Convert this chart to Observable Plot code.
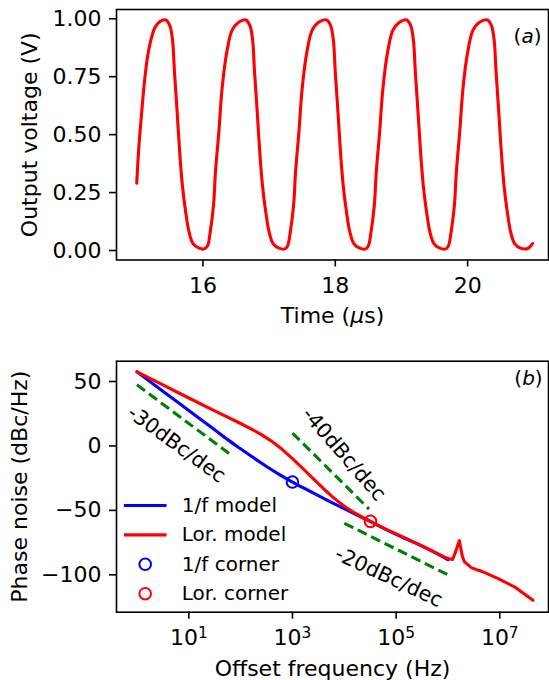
<!DOCTYPE html>
<html>
<head>
<meta charset="utf-8">
<script src="https://cdn.jsdelivr.net/npm/d3@7"></script>
<script src="https://cdn.jsdelivr.net/npm/@observablehq/plot@0.6"></script>
<style>
  html, body { margin: 0; padding: 0; background: #fff; }
  #chart { width: 549px; }
  #chart svg { display: block; }
</style>
</head>
<body>
<div id="chart"></div>
<script>
// ---------- Panel (a): output voltage waveform ----------
const timeUs = [
  15.00, 15.03, 15.07, 15.11, 15.16, 15.22, 15.28, 15.36, 15.44,
  15.50, 15.54, 15.57, 15.61, 15.65, 15.69, 15.74, 15.79, 15.85, 15.94, 16.02,
  16.07, 16.11, 16.16, 16.19, 16.24, 16.29, 16.36, 16.44, 16.54, 16.65,
  16.71, 16.75, 16.78, 16.82, 16.86, 16.90, 16.95, 17.00, 17.06, 17.15, 17.24,
  17.28, 17.32, 17.37, 17.40, 17.45, 17.50, 17.57, 17.65, 17.75, 17.87,
  17.93, 17.97, 18.00, 18.04, 18.08, 18.12, 18.17, 18.22, 18.28, 18.37, 18.46,
  18.50, 18.54, 18.59, 18.62, 18.67, 18.72, 18.79, 18.87, 18.97, 19.08,
  19.14, 19.18, 19.21, 19.25, 19.29, 19.33, 19.38, 19.43, 19.49, 19.58, 19.67,
  19.71, 19.75, 19.80, 19.83, 19.88, 19.93, 20.00, 20.08, 20.18, 20.30,
  20.36, 20.40, 20.43, 20.47, 20.51, 20.55, 20.60, 20.65, 20.71, 20.80, 20.89,
  20.94, 20.98
];
const voltage = [
  0.29, 0.44, 0.58, 0.71, 0.83, 0.915, 0.965, 0.99, 0.995,
  0.97, 0.91, 0.77, 0.60, 0.42, 0.28, 0.165, 0.08, 0.03, 0.01, 0.007,
  0.02, 0.08, 0.195, 0.34, 0.51, 0.70, 0.855, 0.95, 0.985, 0.995,
  0.97, 0.91, 0.77, 0.60, 0.42, 0.28, 0.165, 0.08, 0.03, 0.01, 0.007,
  0.02, 0.08, 0.195, 0.34, 0.51, 0.70, 0.855, 0.95, 0.985, 0.995,
  0.97, 0.91, 0.77, 0.60, 0.42, 0.28, 0.165, 0.08, 0.03, 0.01, 0.007,
  0.02, 0.08, 0.195, 0.34, 0.51, 0.70, 0.855, 0.95, 0.985, 0.995,
  0.97, 0.91, 0.77, 0.60, 0.42, 0.28, 0.165, 0.08, 0.03, 0.01, 0.007,
  0.02, 0.08, 0.195, 0.34, 0.51, 0.70, 0.855, 0.95, 0.985, 0.995,
  0.97, 0.91, 0.77, 0.60, 0.42, 0.28, 0.165, 0.08, 0.03, 0.01, 0.007,
  0.015, 0.03
];
const timeTicks = [16, 18, 20];
const voltageTicks = [0, 0.25, 0.5, 0.75, 1.0];

// ---------- Panel (b): phase noise ----------
const lorFreqHz = [
  1, 3.16, 10, 31.6, 100, 158.5, 251.2, 398.1, 631, 1000, 1585, 2512, 3981,
  6310, 10000, 15850, 25120, 39810, 63100, 100000, 316200,
  741000, 891000, 1047000, 1230000, 1349000, 1660000, 1905000, 2089000,
  2818000, 3548000, 4169000, 5129000, 9333000, 19500000, 43650000
];
const lorPhaseNoise = [
  57.5, 47.3, 37.2, 27.2, 17.4, 13.3, 8.8, 3.6, -2.6, -9.8, -17.5, -25.4, -33.2,
  -40.5, -46.8, -52.0, -56.4, -60.5, -64.5, -68.3, -77.5,
  -84.9, -86.6, -87.5, -88.0, -84.0, -73.5, -86.0, -90.0,
  -94.4, -96.0, -96.8, -98.3, -103.0, -109.5, -119.8
];
const oneFFreqHz = [
  1, 3.16, 10, 31.6, 56.2, 100, 177.8, 316.2, 562.3, 1000, 1778, 3162, 5623,
  10000, 17780, 25120, 39810, 63100, 100000, 316200, 741000, 891000, 1000000
];
const oneFPhaseNoise = [
  57.5, 42.5, 27.5, 12.5, 4.9, -2.2, -9.2, -15.9, -22.2, -28.0, -33.4, -38.6, -43.7,
  -48.7, -53.7, -56.5, -60.7, -64.7, -68.6, -77.8, -85.3, -87.2, -88.3
];
const cornerNames = ["1/f corner", "Lor. corner"];
const cornerFreqHz = [1000, 32000];
const cornerPhaseNoise = [-28.0, -58.5];

// slope guide lines (dashed) and their labels
const slopeLabels = ["-30dBc/dec", "-40dBc/dec", "-20dBc/dec"];
const slopeStartHz = [1, 1000, 10000];
const slopeStartDb = [47.5, 10, -60];
const slopeEndHz = [65, 30000, 1000000];
const slopeEndDb = [-7, -49, -100];
const slopeLabelHz = [5.8, 9800, 72000];
const slopeLabelDb = [1.3, -6.4, -101.7];
const slopeLabelAngle = [36, 49, 25];

const freqTicks = [10, 1000, 100000, 10000000];
const noiseTicks = [50, 0, -50, -100];

const legendLabels = ["1/f model", "Lor. model", "1/f corner", "Lor. corner"];
const legendColors = ["#0000ff", "#ff0000", "#0000ff", "#ff0000"];
const legendKinds = ["line", "line", "circle", "circle"];

// ---------- build ----------
const FONT = "'DejaVu Sans', sans-serif";
const RED = "#ff0000", BLUE = "#0000ff", GREEN = "#008000";
const LW = 3.1;

const waveData = timeUs.map((t, i) => ({t, v: voltage[i]}));

const topPlot = Plot.plot({
  width: 549, height: 340,
  marginLeft: 116, marginRight: 1, marginTop: 9, marginBottom: 80.5,
  style: {fontFamily: FONT, fontSize: "22px", color: "black", background: "white", overflow: "visible"},
  x: {domain: [14.694, 21.222]},
  y: {domain: [-0.041, 1.040]},
  marks: [
    Plot.line(waveData, {x: "t", y: "v", stroke: RED, strokeWidth: LW, curve: "catmull-rom"}),
    Plot.frame({stroke: "black", strokeWidth: 1.6}),
    Plot.axisX({ticks: timeTicks, tickFormat: d3.format("d"), tickSize: 7, tickPadding: 10, strokeWidth: 1.6, label: null, fontSize: 22}),
    Plot.axisY({ticks: voltageTicks, tickFormat: d3.format(".2f"), tickSize: 7, tickPadding: 8, strokeWidth: 1.6, label: null, fontSize: 22}),
    Plot.text(["Time (μs)"], {frameAnchor: "bottom", dy: 55.5, lineAnchor: "middle", textAnchor: "middle", fontSize: 22}),
    Plot.text(["Output voltage (V)"], {frameAnchor: "left", dx: -87, rotate: -90, lineAnchor: "middle", textAnchor: "middle", fontSize: 22}),
    Plot.text(["(a)"], {frameAnchor: "top-right", dx: -21, dy: 27, lineAnchor: "middle", textAnchor: "middle", fontSize: 20})
  ]
});

const lorData = lorFreqHz.map((f, i) => ({f, db: lorPhaseNoise[i]}));
const oneFData = oneFFreqHz.map((f, i) => ({f, db: oneFPhaseNoise[i]}));
const cornerData = cornerNames.map((n, i) => ({n, f: cornerFreqHz[i], db: cornerPhaseNoise[i], c: i === 0 ? BLUE : RED}));
const slopeData = slopeLabels.map((s, i) => ({
  s, f1: slopeStartHz[i], d1: slopeStartDb[i], f2: slopeEndHz[i], d2: slopeEndDb[i],
  lf: slopeLabelHz[i], ld: slopeLabelDb[i], a: slopeLabelAngle[i]
}));

const lineSymbol = {draw(ctx) { ctx.moveTo(-21.3, 0); ctx.lineTo(21.3, 0); }};
const legendMarks = legendLabels.flatMap((lab, i) => {
  const dy = -106.7 + i * 29.4;
  const isLine = legendKinds[i] === "line";
  return [
    Plot.dot([0], {frameAnchor: "bottom-left", dx: 28.7, dy, symbol: isLine ? lineSymbol : "circle",
      r: 5.8, stroke: legendColors[i], strokeWidth: isLine ? LW : 2, fill: "none"}),
    Plot.text([lab], {frameAnchor: "bottom-left", dx: 65.3, dy, textAnchor: "start", lineAnchor: "middle", fontSize: 20})
  ];
});

const botPlot = Plot.plot({
  width: 549, height: 340,
  marginLeft: 116, marginRight: 1, marginTop: 20.7, marginBottom: 68.3,
  style: {fontFamily: FONT, fontSize: "22px", color: "black", background: "white", overflow: "visible"},
  x: {type: "log", domain: [Math.pow(10, -0.395), Math.pow(10, 7.94)]},
  y: {domain: [-129, 65.75]},
  marks: [
    Plot.link(slopeData, {x1: "f1", y1: "d1", x2: "f2", y2: "d2", stroke: GREEN, strokeWidth: LW, strokeDasharray: "10,5"}),
    Plot.text(slopeData, {x: "lf", y: "ld", text: "s", rotate: "a", textAnchor: "middle", lineAnchor: "middle", fontSize: 20.5}),
    Plot.line(oneFData, {x: "f", y: "db", stroke: BLUE, strokeWidth: LW, curve: "monotone-x"}),
    Plot.line(lorData, {x: "f", y: "db", stroke: RED, strokeWidth: LW}),
    Plot.dot(cornerData, {x: "f", y: "db", r: 5.8, stroke: "c", strokeWidth: 2, fill: "none"}),
    ...legendMarks,
    Plot.frame({stroke: "black", strokeWidth: 1.6}),
    Plot.axisX({ticks: freqTicks, tickFormat: d => "10^" + Math.round(Math.log10(d)), tickSize: 7, tickPadding: 10, strokeWidth: 1.6, label: null, fontSize: 22}),
    Plot.axisY({ticks: noiseTicks, tickSize: 7, tickPadding: 8, strokeWidth: 1.6, label: null, fontSize: 22}),
    Plot.text(["Offset frequency (Hz)"], {frameAnchor: "bottom", dy: 56.5, lineAnchor: "middle", textAnchor: "middle", fontSize: 22}),
    Plot.text(["Phase noise (dBc/Hz)"], {frameAnchor: "left", dx: -97, rotate: -90, lineAnchor: "middle", textAnchor: "middle", fontSize: 22}),
    Plot.text(["(b)"], {frameAnchor: "top-right", dx: -20, dy: 17.6, lineAnchor: "middle", textAnchor: "middle", fontSize: 20})
  ]
});

// rich text touches (italic math letters, superscript exponents)
function rich(svg) {
  svg.querySelectorAll("text").forEach(t => {
    const s = t.textContent;
    if (s === "Time (μs)") t.innerHTML = 'Time (<tspan font-style="italic">μ</tspan>s)';
    else if (s === "(a)") t.innerHTML = '(<tspan font-style="italic">a</tspan>)';
    else if (s === "(b)") t.innerHTML = '(<tspan font-style="italic">b</tspan>)';
    else {
      const m = /^10\^(\d+)$/.exec(s);
      if (m) t.innerHTML = '10<tspan dy="-0.45em" font-size="0.7em">' + m[1] + '</tspan>';
    }
  });
}
rich(topPlot);
rich(botPlot);

const chart = document.getElementById("chart");
chart.appendChild(topPlot);
chart.appendChild(botPlot);
</script>
</body>
</html>
